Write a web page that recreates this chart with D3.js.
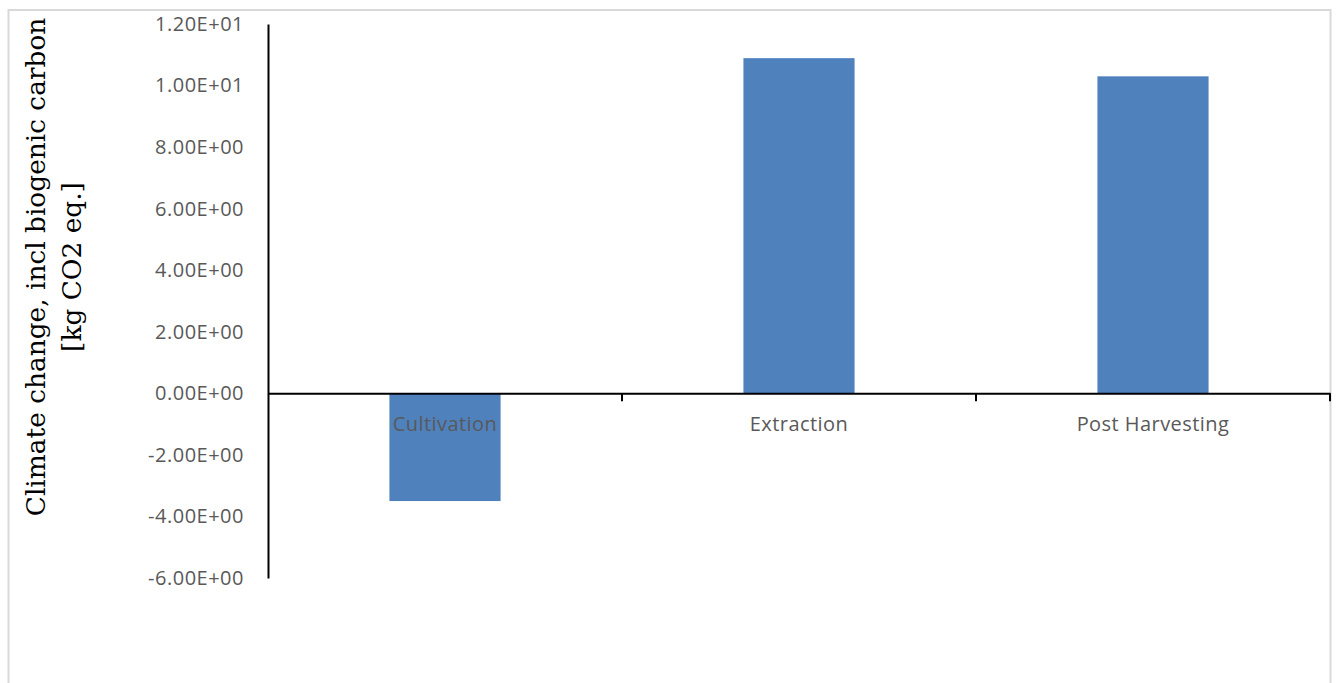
<!DOCTYPE html>
<html>
<head>
<meta charset="utf-8">
<script src="https://cdn.jsdelivr.net/npm/d3@7"></script>
<style>
  html, body { margin: 0; padding: 0; background: #fff; }
  svg { display: block; }
</style>
</head>
<body>
<svg id="chart" width="1339" height="683"></svg>
<script>
// Life-cycle stages and their climate change impact (kg CO2 eq.)
const stages = ["Cultivation", "Extraction", "Post Harvesting"];
const impact = [-3.50, 10.89, 10.30];
const yTicks = [12, 10, 8, 6, 4, 2, 0, -2, -4, -6];
const yTitleLines = ["Climate change, incl biogenic carbon", "[kg CO2 eq.]"];

const svg = d3.select("#chart");

// outer chart frame
svg.append("rect")
  .attr("x", 8.5).attr("y", 10).attr("width", 1322).attr("height", 700)
  .attr("fill", "#fff").attr("stroke", "#d9d9d9").attr("stroke-width", 2);

const plot = { left: 268, right: 1330, top: 24, bottom: 578 };

const x = d3.scaleBand().domain(stages).range([plot.left, plot.right]).paddingInner(0).paddingOuter(0);
const y = d3.scaleLinear().domain([-6, 12]).range([plot.bottom, plot.top]);

const barW = x.bandwidth() * 0.314;
const labelFont = "'Open Sans', Lato, sans-serif";

// bars
svg.append("g").selectAll("rect").data(stages).join("rect")
  .attr("x", (d) => x(d) + (x.bandwidth() - barW) / 2)
  .attr("y", (d, i) => y(Math.max(0, impact[i])))
  .attr("width", barW)
  .attr("height", (d, i) => Math.abs(y(impact[i]) - y(0)))
  .attr("fill", "#4f81bd");

// scientific notation with a plain hyphen and two-digit exponent
const sci = (d) => {
  const [m, e] = d.toExponential(2).split("e");
  const sign = e[0] === "-" ? "-" : "+";
  const digits = e.replace(/[+-]/, "").padStart(2, "0");
  return `${m}E${sign}${digits}`;
};

// vertical value axis (line only, labels to the left)
const yAxis = d3.axisLeft(y).tickValues(yTicks).tickSize(0).tickPadding(24).tickFormat(sci);
const gy = svg.append("g").attr("transform", `translate(${plot.left},0)`).call(yAxis);
gy.select(".domain").attr("stroke", "#000").attr("stroke-width", 2);
gy.selectAll("text")
  .attr("font-family", labelFont)
  .attr("font-size", 20).attr("letter-spacing", 0.5).attr("fill", "#595959");

// category axis along zero
const xAxis = d3.axisBottom(x).tickSize(0).tickPadding(23);
const gx = svg.append("g").attr("transform", `translate(0,${y(0)})`).call(xAxis);
gx.select(".domain").attr("stroke", "#000").attr("stroke-width", 2);
gx.selectAll("text")
  .attr("font-family", labelFont)
  .attr("font-size", 20).attr("letter-spacing", 0.45).attr("fill", "#595959");
// tick marks at category boundaries
const bounds = stages.map((d) => x(d) + x.bandwidth());
gx.selectAll(".bound").data(bounds).join("line")
  .attr("class", "bound")
  .attr("x1", (d) => d).attr("x2", (d) => d)
  .attr("y1", 0).attr("y2", 8)
  .attr("stroke", "#000").attr("stroke-width", 2);

// axis title
const title = svg.append("text")
  .attr("transform", `translate(0,267) rotate(-90)`)
  .attr("text-anchor", "middle")
  .attr("font-family", "'DejaVu Serif', 'Liberation Serif', serif")
  .attr("font-size", 26.4).attr("fill", "#000");
title.selectAll("tspan").data(yTitleLines).join("tspan")
  .attr("x", 0)
  .attr("y", (d, i) => 45 + i * 36)
  .text((d) => d);
</script>
</body>
</html>
